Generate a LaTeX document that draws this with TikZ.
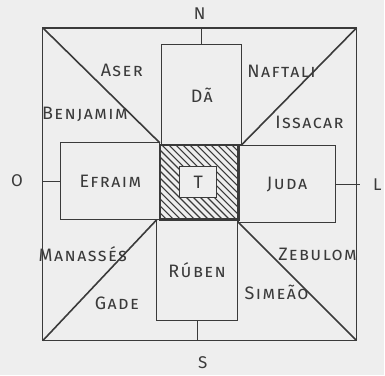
\documentclass[tikz,border=0pt]{standalone}
\usepackage{fontspec}
\setmainfont{Fira Sans}
\usetikzlibrary{positioning,calc}
\definecolor{papel}{HTML}{EEEEEE}
\definecolor{tinta}{HTML}{3A3A3A}
\newcommand{\letra}{\fontsize{18}{18}\selectfont\scshape\addfontfeatures{LetterSpace=8}}

\begin{document}
\begin{tikzpicture}[x=1pt, y=-1pt,
  campo/.style={rectangle, draw=tinta, line width=1.1pt, outer sep=0pt, inner sep=0pt, font=\letra, text=tinta},
  tribo/.style={font=\letra, text=tinta, inner sep=1pt},
  ponto/.style={font=\fontsize{17}{17}\selectfont, text=tinta},
  eixo/.style={draw=tinta, line width=1.1pt},
  diag/.style={draw=tinta, line width=1.6pt},
  hach/.style={draw=tinta, line width=1.1pt}
]
\fill[papel] (0,0) rectangle (385,376);

\node[campo, minimum width=314pt, minimum height=313pt] (acamp) at (200,184.5) {};
\node[campo, minimum width=80pt, minimum height=100pt] (dan) at (202,95) {Dã};
\node[campo, minimum width=81pt, minimum height=101pt] (ruben) at (197.5,270.5) {Rúben};
\node[campo, minimum width=99pt, minimum height=77pt] (efraim) at (110.5,181.5) {Efraim};
\node[campo, minimum width=97pt, minimum height=77pt] (juda) at (287.5,184.5) {Juda};

\draw[diag] (acamp.north west) -- (efraim.north east);
\draw[diag] (acamp.north east) -- (dan.south east);
\draw[diag] (acamp.south west) -- (ruben.north west);
\draw[diag] (acamp.south east) -- (juda.south west);

\node[campo, draw=none, minimum width=79pt, minimum height=75pt] (tab) at (199.5,182.5) {};
\begin{scope}
  \clip (tab.north west) rectangle (tab.south east);
  \foreach \d in {-98,-91,...,98}
    \draw[hach] ($(tab.center)+(\d,0)+(-50,-50)$) -- ++(100,100);
\end{scope}
\draw[tinta, line width=2.4pt] (tab.north west) rectangle (tab.south east);
\node[campo, fill=papel, line width=1.4pt, minimum width=37pt, minimum height=31pt] (arca) at (198.5,182.5) {T};

\coordinate (leste) at (361,184.5);
\draw[eixo] (dan.north) -- (dan.north |- acamp.north);
\draw[eixo] (ruben.south) -- (ruben.south |- acamp.south);
\draw[eixo] (efraim.west) -- (efraim.west -| acamp.west);
\draw[eixo] (juda.east) -- (leste);

\node[ponto] (norte) at (200,14) {N};
\node[ponto] (sul) at (203,363) {S};
\node[ponto] (oeste) at (17,181) {O};
\node[ponto] (lesteL) at (378,185) {L};

\node[tribo] (aser) at (122,71) {Aser};
\node[tribo] (benj) at (85,115) {Benjamim};
\node[tribo] (naft) at (282,71) {Naftali};
\node[tribo] (issa) at (310,123) {Issacar};
\node[tribo] (mana) at (83,254) {Manassés};
\node[tribo] (gade) at (117,304) {Gade};
\node[tribo] (zebu) at (318,255) {Zebulom};
\node[tribo] (sime) at (277,293) {Simeão};
\end{tikzpicture}
\end{document}
